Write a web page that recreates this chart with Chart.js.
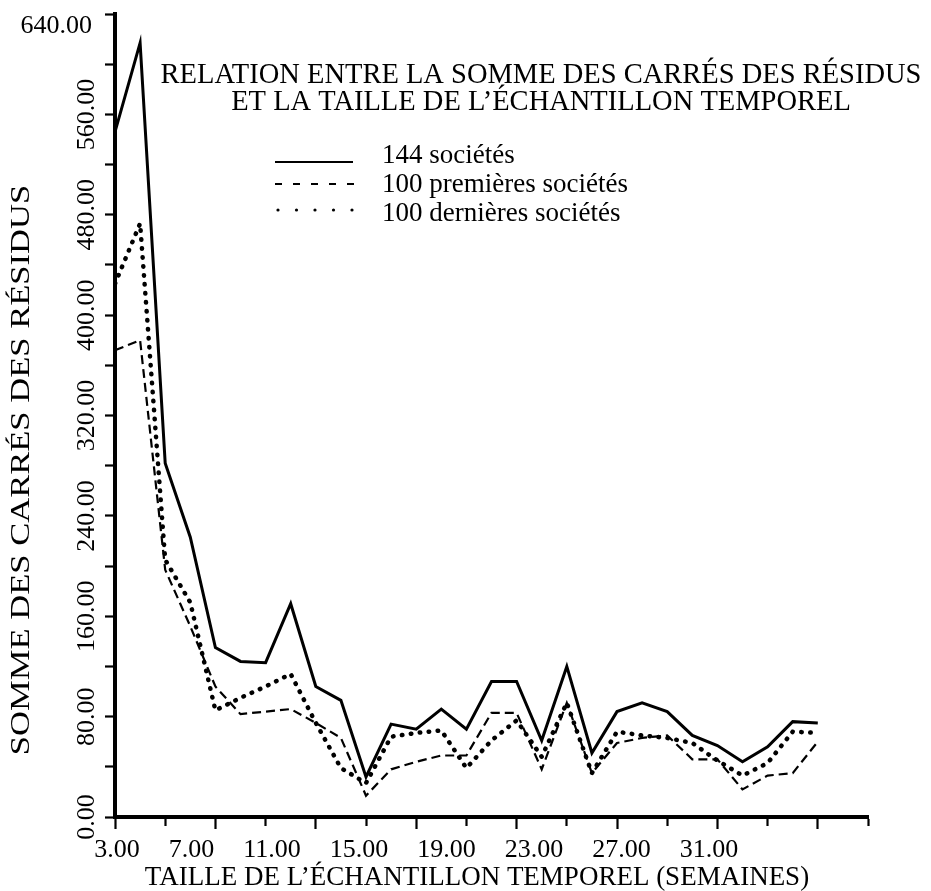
<!DOCTYPE html>
<html>
<head>
<meta charset="utf-8">
<script src="https://cdn.jsdelivr.net/npm/chart.js@4.4.0/dist/chart.umd.min.js"></script>
<style>
  body { margin: 0; background: #fff; }
  #wrap { width: 931px; height: 891px; position: relative; }
</style>
</head>
<body>
<div id="wrap"><canvas id="chart"></canvas></div>
<script>
// données
const tailles = [3, 4, 5, 6, 7, 8, 9, 10, 11, 12, 13, 14, 15, 16, 17, 18, 19, 20, 21, 22, 23, 24, 25, 26, 27, 28, 29, 30, 31];
const societes144 = [546, 617, 282, 223, 135, 124, 123, 170, 104, 93, 32, 74, 70, 86, 70, 108, 108, 61, 120, 51, 84, 91, 84, 65, 57, 44, 56, 76, 75];
const premieres100 = [372, 380, 197, 152, 104, 82, 84, 86, 75, 63, 17, 38, 44, 49, 49, 83, 83, 38, 91, 35, 59, 63, 65, 46, 46, 22, 33, 35, 60];
const dernieres100 = [425, 473, 205, 171, 85, 95, 104, 114, 75, 39, 27, 64, 67, 69, 39, 61, 77, 48, 91, 35, 68, 65, 63, 59, 45, 33, 43, 68, 67];

const nomsSeries = ['144 sociétés', '100 premières sociétés', '100 dernières sociétés'];
const xTicks = [3, 5, 7, 9, 11, 13, 15, 17, 19, 21, 23, 25, 27, 29, 31, 33];
const xTickLabels = ['3.00', '7.00', '11.00', '15.00', '19.00', '23.00', '27.00', '31.00'];
const yTicks = [0, 40, 80, 120, 160, 200, 240, 280, 320, 360, 400, 440, 480, 520, 560, 600, 640];
const yTickLabels = [0, 80, 160, 240, 320, 400, 480, 560];

const titre = ['RELATION ENTRE LA SOMME DES CARRÉS DES RÉSIDUS', 'ET LA TAILLE DE L’ÉCHANTILLON TEMPOREL'];
const titreX = 'TAILLE DE L’ÉCHANTILLON TEMPOREL (SEMAINES)';
const titreY = 'SOMME DES CARRÉS DES RÉSIDUS';

const serif = '"Liberation Serif", "DejaVu Serif", serif';
const pts = arr => arr.map((v, i) => ({ x: tailles[i], y: v }));

// textes du graphique (titre, légende, étiquettes)
const textes = {
    id: 'textes',
    afterDraw(chart) {
        const c = chart.ctx;
        const xs = chart.scales.x;
        const ys = chart.scales.y;
        c.save();
        c.fillStyle = '#000';
        c.strokeStyle = '#000';

        // titre
        c.font = '28.5px ' + serif;
        c.textAlign = 'center';
        c.textBaseline = 'alphabetic';
        c.fillText(titre[0], 541, 83);
        c.fillText(titre[1], 541, 110);

        // légende
        c.font = '27px ' + serif;
        c.textAlign = 'left';
        const lx = 382;
        [163, 192, 221].forEach((y, i) => c.fillText(nomsSeries[i], lx, y));
        c.lineWidth = 2;
        c.beginPath(); c.moveTo(275, 162); c.lineTo(353, 162); c.stroke();
        c.setLineDash([7, 11]);
        c.beginPath(); c.moveTo(275, 184); c.lineTo(355, 184); c.stroke();
        c.setLineDash([]);
        for (let k = 0; k < 5; k++) {
            c.beginPath(); c.arc(278 + k * 18.5, 210, 1.6, 0, Math.PI * 2); c.fill();
        }

        // étiquettes de l'axe x, composées à la suite
        c.font = '26px ' + serif;
        let px = xs.getPixelForValue(xTicks[0]) - c.measureText(xTickLabels[0]).width / 2 + 2;
        xTickLabels.forEach(t => {
            c.fillText(t, px, 857);
            px += c.measureText(t).width + 29;
        });

        // titre de l'axe x
        c.font = '27px ' + serif;
        c.textAlign = 'center';
        c.fillText(titreX, 477, 885);

        // 640.00 en haut
        c.font = '26px ' + serif;
        c.textAlign = 'right';
        c.fillText(ys.max.toFixed(2), 92, 33);

        // titre de l'axe y (caractères plus larges)
        c.translate(22, 470);
        c.rotate(-Math.PI / 2);
        c.scale(1.28, 1);
        c.font = '27px ' + serif;
        c.textAlign = 'center';
        c.textBaseline = 'middle';
        c.fillText(titreY, 0, 0);
        c.restore();
    }
};

const ctx = document.getElementById('chart').getContext('2d');
new Chart(ctx, {
    type: 'line',
    data: {
        datasets: [{
            label: nomsSeries[0],
            data: pts(societes144),
            borderColor: '#000',
            borderWidth: 3,
            pointRadius: 0
        }, {
            label: nomsSeries[1],
            data: pts(premieres100),
            borderColor: '#000',
            borderWidth: 2.2,
            borderDash: [9, 5],
            pointRadius: 0
        }, {
            label: nomsSeries[2],
            data: pts(dernieres100),
            borderColor: '#000',
            borderWidth: 4.5,
            borderDash: [0.5, 8.5],
            borderCapStyle: 'round',
            pointRadius: 0
        }]
    },
    options: {
        responsive: true,
        maintainAspectRatio: false,
        animation: false,
        layout: { padding: { left: 0, top: 14, right: 63, bottom: 0 } },
        plugins: { legend: { display: false }, tooltip: { enabled: false } },
        scales: {
            x: {
                type: 'linear',
                min: 3,
                max: 33,
                afterBuildTicks: s => { s.ticks = xTicks.map(v => ({ value: v })); },
                afterFit: s => { s.height = 74; },
                ticks: { display: false },
                border: { display: true, color: '#000', width: 4 },
                grid: {
                    drawOnChartArea: false,
                    tickLength: 12,
                    tickWidth: 2.2,
                    tickColor: '#000',
                    tickBorderDash: c => ((c.tick.value - 3) % 4 === 0 ? [] : [7, 40])
                }
            },
            y: {
                min: 0,
                max: 640,
                afterBuildTicks: s => { s.ticks = yTicks.map(v => ({ value: v })); },
                afterFit: s => { s.width = 115; },
                ticks: {
                    autoSkip: false,
                    minRotation: 90,
                    maxRotation: 90,
                    crossAlign: 'center',
                    padding: -18,
                    color: '#000',
                    font: { family: serif, size: 26 },
                    callback: v => (yTickLabels.includes(v) ? v.toFixed(2) : '')
                },
                border: { display: true, color: '#000', width: 4 },
                grid: {
                    drawOnChartArea: false,
                    tickLength: 10,
                    tickWidth: 2.2,
                    tickColor: '#000'
                }
            }
        }
    },
    plugins: [textes]
});
</script>
</body>
</html>
